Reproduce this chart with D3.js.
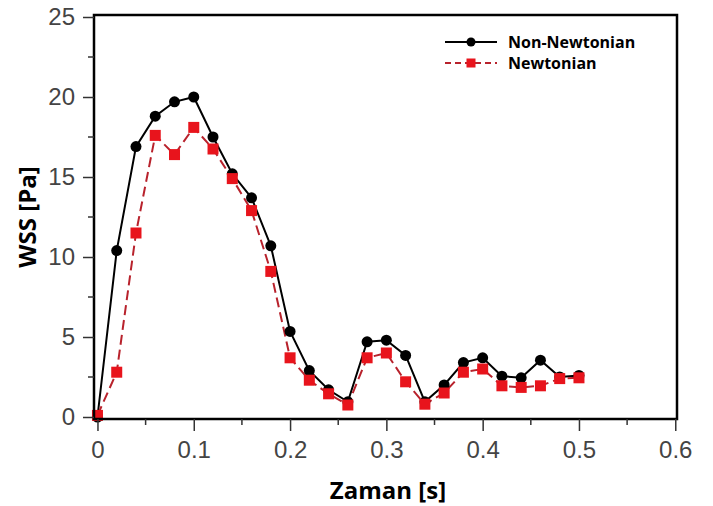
<!DOCTYPE html>
<html>
<head>
<meta charset="utf-8">
<script src="https://cdn.jsdelivr.net/npm/d3@7"></script>
<style>
  body { margin: 0; background: #fff; }
  svg { display: block; font-family: "Open Sans", "Noto Sans", sans-serif; }
</style>
</head>
<body>
<svg id="chart" width="713" height="506"></svg>
<script>
const times = [0, 0.02, 0.04, 0.06, 0.08, 0.10, 0.12, 0.14, 0.16, 0.18, 0.20, 0.22, 0.24,
    0.26, 0.28, 0.30, 0.32, 0.34, 0.36, 0.38, 0.40, 0.42, 0.44, 0.46, 0.48, 0.50];
const nonNewtonian = [0, 10.4, 16.9, 18.8, 19.7, 20.0, 17.5, 15.2, 13.7, 10.7, 5.35, 2.9, 1.7,
    0.95, 4.7, 4.8, 3.85, 0.95, 2.0, 3.4, 3.7, 2.55, 2.45, 3.55, 2.5, 2.6];
const newtonian = [0.1, 2.8, 11.5, 17.6, 16.4, 18.1, 16.75, 14.9, 12.9, 9.1, 3.7, 2.3, 1.45,
    0.75, 3.7, 4.0, 2.2, 0.8, 1.5, 2.8, 3.0, 1.95, 1.85, 1.95, 2.4, 2.45];
const xTicks = [0, 0.1, 0.2, 0.3, 0.4, 0.5, 0.6];
const yTicks = [0, 5, 10, 15, 20, 25];
const xMinor = [0.05, 0.15, 0.25, 0.35, 0.45, 0.55];
const yMinor = [2.5, 7.5, 12.5, 17.5, 22.5];
const seriesNames = ["Non-Newtonian", "Newtonian"];

const svg = d3.select("#chart");
const plotLeft = 94, plotRight = 677, plotTop = 15, plotBottom = 419;

const x = d3.scaleLinear().domain([-0.0036, 0.6018]).range([plotLeft, plotRight]);
const y = d3.scaleLinear().domain([-0.125, 25.125]).range([plotBottom, plotTop]);

const series = [
    { name: seriesNames[0], values: nonNewtonian, line: "#000", fill: "#000", dash: null, shape: "circle" },
    { name: seriesNames[1], values: newtonian, line: "#b8222c", fill: "#e8141c", dash: "10,5", shape: "square" }
];

const line = d3.line().x((d, i) => x(times[i])).y(d => y(d));

series.forEach(s => {
    svg.append("path")
        .datum(s.values)
        .attr("fill", "none")
        .attr("stroke", s.line)
        .attr("stroke-width", 2)
        .attr("stroke-dasharray", s.dash)
        .attr("d", line);
});

series.forEach(s => {
    if (s.shape === "circle") {
        svg.selectAll(".pt-circle")
            .data(s.values)
            .enter()
            .append("circle")
            .attr("cx", (d, i) => x(times[i]))
            .attr("cy", d => y(d))
            .attr("r", 5.5)
            .attr("fill", s.fill);
    } else {
        svg.selectAll(".pt-square")
            .data(s.values)
            .enter()
            .append("rect")
            .attr("x", (d, i) => x(times[i]) - 5.5)
            .attr("y", d => y(d) - 5.5)
            .attr("width", 11)
            .attr("height", 11)
            .attr("fill", s.fill);
    }
});

// frame
svg.append("rect")
    .attr("x", plotLeft).attr("y", plotTop)
    .attr("width", plotRight - plotLeft).attr("height", plotBottom - plotTop)
    .attr("fill", "none").attr("stroke", "#000").attr("stroke-width", 2.5);

// x axis
const xAxis = svg.append("g").attr("transform", `translate(0,${plotBottom})`);
xAxis.call(d3.axisBottom(x).tickValues(xTicks).tickSize(12).tickPadding(10).tickFormat(d3.format("")));
xAxis.select(".domain").remove();
xAxis.selectAll(".tick line").attr("stroke", "#333").attr("stroke-width", 1.5);
xAxis.selectAll(".tick text").attr("fill", "#444").style("font-size", "24px").style("font-weight", "500");
xAxis.selectAll(".minor")
    .data(xMinor)
    .enter()
    .append("line")
    .attr("class", "minor")
    .attr("x1", d => x(d)).attr("x2", d => x(d))
    .attr("y1", 0).attr("y2", 6)
    .attr("stroke", "#333").attr("stroke-width", 1.5);

// y axis
const yAxis = svg.append("g").attr("transform", `translate(${plotLeft},0)`);
yAxis.call(d3.axisLeft(y).tickValues(yTicks).tickSize(11).tickPadding(8));
yAxis.select(".domain").remove();
yAxis.selectAll(".tick line").attr("stroke", "#333").attr("stroke-width", 1.5);
yAxis.selectAll(".tick text").attr("fill", "#444").style("font-size", "24px").style("font-weight", "500");
yAxis.selectAll(".minor")
    .data(yMinor)
    .enter()
    .append("line")
    .attr("class", "minor")
    .attr("x1", -6).attr("x2", 0)
    .attr("y1", d => y(d)).attr("y2", d => y(d))
    .attr("stroke", "#333").attr("stroke-width", 1.5);

// axis titles
svg.append("text")
    .attr("x", 388).attr("y", 499)
    .attr("text-anchor", "middle")
    .style("font-size", "24px").style("font-weight", "bold")
    .text("Zaman [s]");

svg.append("text")
    .attr("transform", "translate(36,217) rotate(-90)")
    .attr("text-anchor", "middle")
    .style("font-size", "24px").style("font-weight", "bold")
    .text("WSS [Pa]");

// legend
const legend = svg.append("g").attr("transform", "translate(445,42)");
series.forEach((s, i) => {
    const row = legend.append("g").attr("transform", `translate(0,${i * 21})`);
    row.append("line")
        .attr("x1", 0).attr("x2", 52).attr("y1", 0).attr("y2", 0)
        .attr("stroke", s.line).attr("stroke-width", 2)
        .attr("stroke-dasharray", s.dash ? "6,4" : null);
    if (s.shape === "circle") {
        row.append("circle").attr("cx", 26).attr("cy", 0).attr("r", 4.5).attr("fill", s.fill);
    } else {
        row.append("rect").attr("x", 21.5).attr("y", -4.5).attr("width", 9).attr("height", 9).attr("fill", s.fill);
    }
    row.append("text")
        .attr("x", 63).attr("y", 6)
        .style("font-size", "16px").style("font-weight", "bold")
        .text(s.name);
});
</script>
</body>
</html>
